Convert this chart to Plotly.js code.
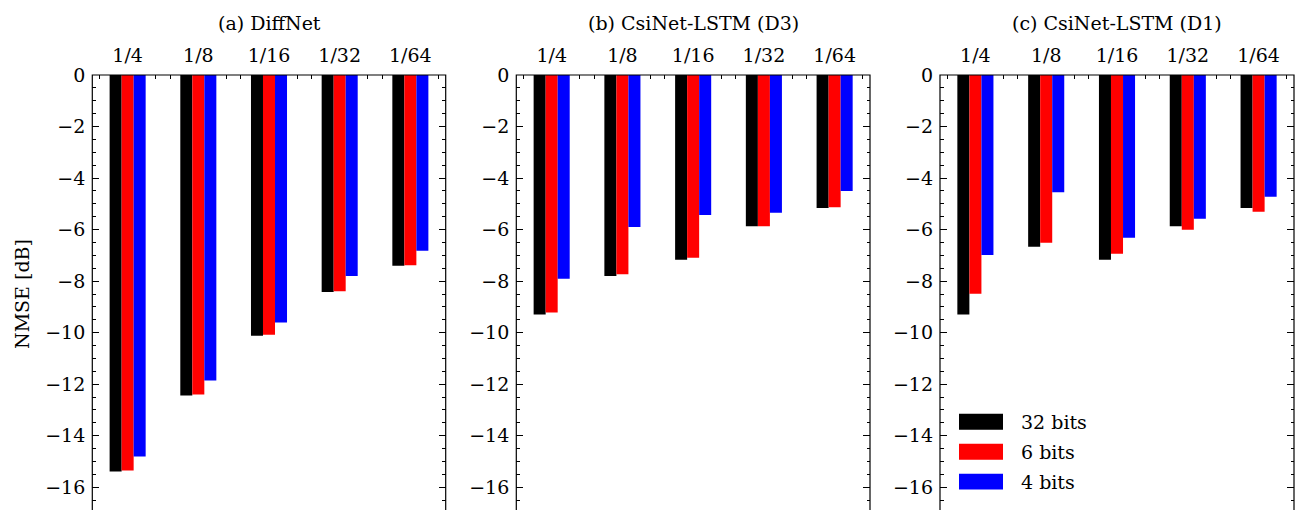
<!DOCTYPE html>
<html>
<head>
<meta charset="utf-8">
<script src="https://cdn.plot.ly/plotly-3.0.1.min.js"></script>
<style>
html, body { margin:0; padding:0; overflow:hidden; background:#fff; }
#chart { width:1295px; height:530px; }
</style>
</head>
<body>
<div id="chart"></div>
<script>
// ---- data ----
const categories = ['1/4', '1/8', '1/16', '1/32', '1/64'];
const seriesNames = ['32 bits', '6 bits', '4 bits'];
const seriesColors = ['#000000', '#ff0000', '#0000ff'];
const panelTitles = ['(a) DiffNet', '(b) CsiNet-LSTM (D3)', '(c) CsiNet-LSTM (D1)'];
const yAxisTitle = 'NMSE [dB]';

const diffnet32 = [-15.39, -12.44, -10.12, -8.42, -7.40];
const diffnet6  = [-15.35, -12.40, -10.08, -8.39, -7.38];
const diffnet4  = [-14.81, -11.86,  -9.61, -7.80, -6.82];

const lstmD3_32 = [-9.30, -7.80, -7.17, -5.87, -5.16];
const lstmD3_6  = [-9.22, -7.73, -7.09, -5.87, -5.13];
const lstmD3_4  = [-7.91, -5.90, -5.43, -5.35, -4.50];

const lstmD1_32 = [-9.30, -6.67, -7.17, -5.87, -5.16];
const lstmD1_6  = [-8.49, -6.51, -6.94, -6.01, -5.31];
const lstmD1_4  = [-6.99, -4.55, -6.32, -5.58, -4.73];

const panels = [
  [diffnet32, diffnet6, diffnet4],
  [lstmD3_32, lstmD3_6, lstmD3_4],
  [lstmD1_32, lstmD1_6, lstmD1_4]
];

// ---- layout geometry ----
const W = 1295, H = 530, T = 75, B = 16.6;
const plotH = H - T - B;
const domains = [[92.3, 445.7], [516.3, 870], [940, 1294]];
const FONT = 'DejaVu Serif';
const FS = 19;
const catIdx = categories.map((c, i) => i);

const traces = [];
panels.forEach((series, p) => {
  const xa = p === 0 ? 'x' : 'x' + (p + 1);
  const ya = p === 0 ? 'y' : 'y' + (p + 1);
  series.forEach((vals, s) => {
    traces.push({
      type: 'bar', x: catIdx, y: vals, name: seriesNames[s],
      marker: { color: seriesColors[s], line: { width: 0 } },
      xaxis: xa, yaxis: ya, showlegend: false, hoverinfo: 'skip'
    });
  });
});

const layout = {
  width: W, height: H,
  margin: { l: 0, r: 0, t: T, b: B, pad: 0 },
  paper_bgcolor: '#fff', plot_bgcolor: '#fff',
  font: { family: FONT, size: FS, color: '#000' },
  barmode: 'group', bargap: 0.49, bargroupgap: 0,
  showlegend: false,
  shapes: [], annotations: []
};

panels.forEach((series, p) => {
  const sfx = p === 0 ? '' : String(p + 1);
  const xk = 'xaxis' + sfx, yk = 'yaxis' + sfx;
  layout[xk] = {
    domain: [domains[p][0] / W, domains[p][1] / W],
    anchor: 'y' + sfx, side: 'top', type: 'linear',
    range: [-0.5, 4.5], fixedrange: true,
    tickmode: 'array', tickvals: catIdx, ticktext: categories,
    ticks: 'inside', ticklen: 6, tickwidth: 1, tickcolor: '#000',
    minor: { dtick: 0.2, tick0: 0, ticks: 'inside', ticklen: 3.5, tickwidth: 1, tickcolor: '#000', showgrid: false },
    showgrid: false, zeroline: false, showline: false,
    layer: 'below traces', ticklabelstandoff: 8,
    tickfont: { family: FONT, size: FS, color: '#000' }
  };
  layout[yk] = {
    domain: [0, 1], anchor: 'x' + sfx,
    range: [-17, 0], fixedrange: true,
    tickmode: 'linear', tick0: 0, dtick: 2,
    ticks: 'inside', ticklen: 7, tickwidth: 1, tickcolor: '#000',
    minor: { dtick: 0.5, ticks: 'inside', ticklen: 3.5, tickwidth: 1, tickcolor: '#000', showgrid: false },
    mirror: 'ticks', showline: false,
    showgrid: false, zeroline: false,
    layer: 'below traces', ticklabelstandoff: 6,
    tickfont: { family: FONT, size: FS, color: '#000' }
  };
  if (p === 0) {
    layout[yk].title = { text: yAxisTitle, font: { family: FONT, size: FS, color: '#000' }, standoff: 10 };
  }
  // frame
  layout.shapes.push({
    type: 'rect', xref: 'x' + sfx + ' domain', yref: 'y' + sfx + ' domain',
    x0: 0, x1: 1, y0: 0, y1: 1, line: { color: '#000', width: 1.2 }, layer: 'above'
  });
  // panel title
  layout.annotations.push({
    text: panelTitles[p], xref: 'x' + sfx + ' domain', yref: 'paper',
    x: 0.5, y: 1, xanchor: 'center', yanchor: 'middle', yshift: T - 23,
    showarrow: false, font: { family: FONT, size: FS, color: '#000' }
  });
});

// custom legend in panel (c)
const pyToPaper = py => 1 - (py - T) / plotH;
const legendRows = [422, 452, 482];
seriesNames.forEach((name, s) => {
  const cy = legendRows[s];
  layout.shapes.push({
    type: 'rect', xref: 'paper', yref: 'paper',
    x0: 959 / W, x1: 1003 / W, y0: pyToPaper(cy + 8), y1: pyToPaper(cy - 8),
    fillcolor: seriesColors[s], line: { width: 0 }, layer: 'above'
  });
  layout.annotations.push({
    text: name, xref: 'paper', yref: 'paper', x: 1019 / W, y: pyToPaper(cy),
    xanchor: 'left', yanchor: 'middle', showarrow: false,
    font: { family: FONT, size: FS, color: '#000' }
  });
});

Plotly.newPlot('chart', traces, layout, { staticPlot: true, displayModeBar: false });
</script>
</body>
</html>
